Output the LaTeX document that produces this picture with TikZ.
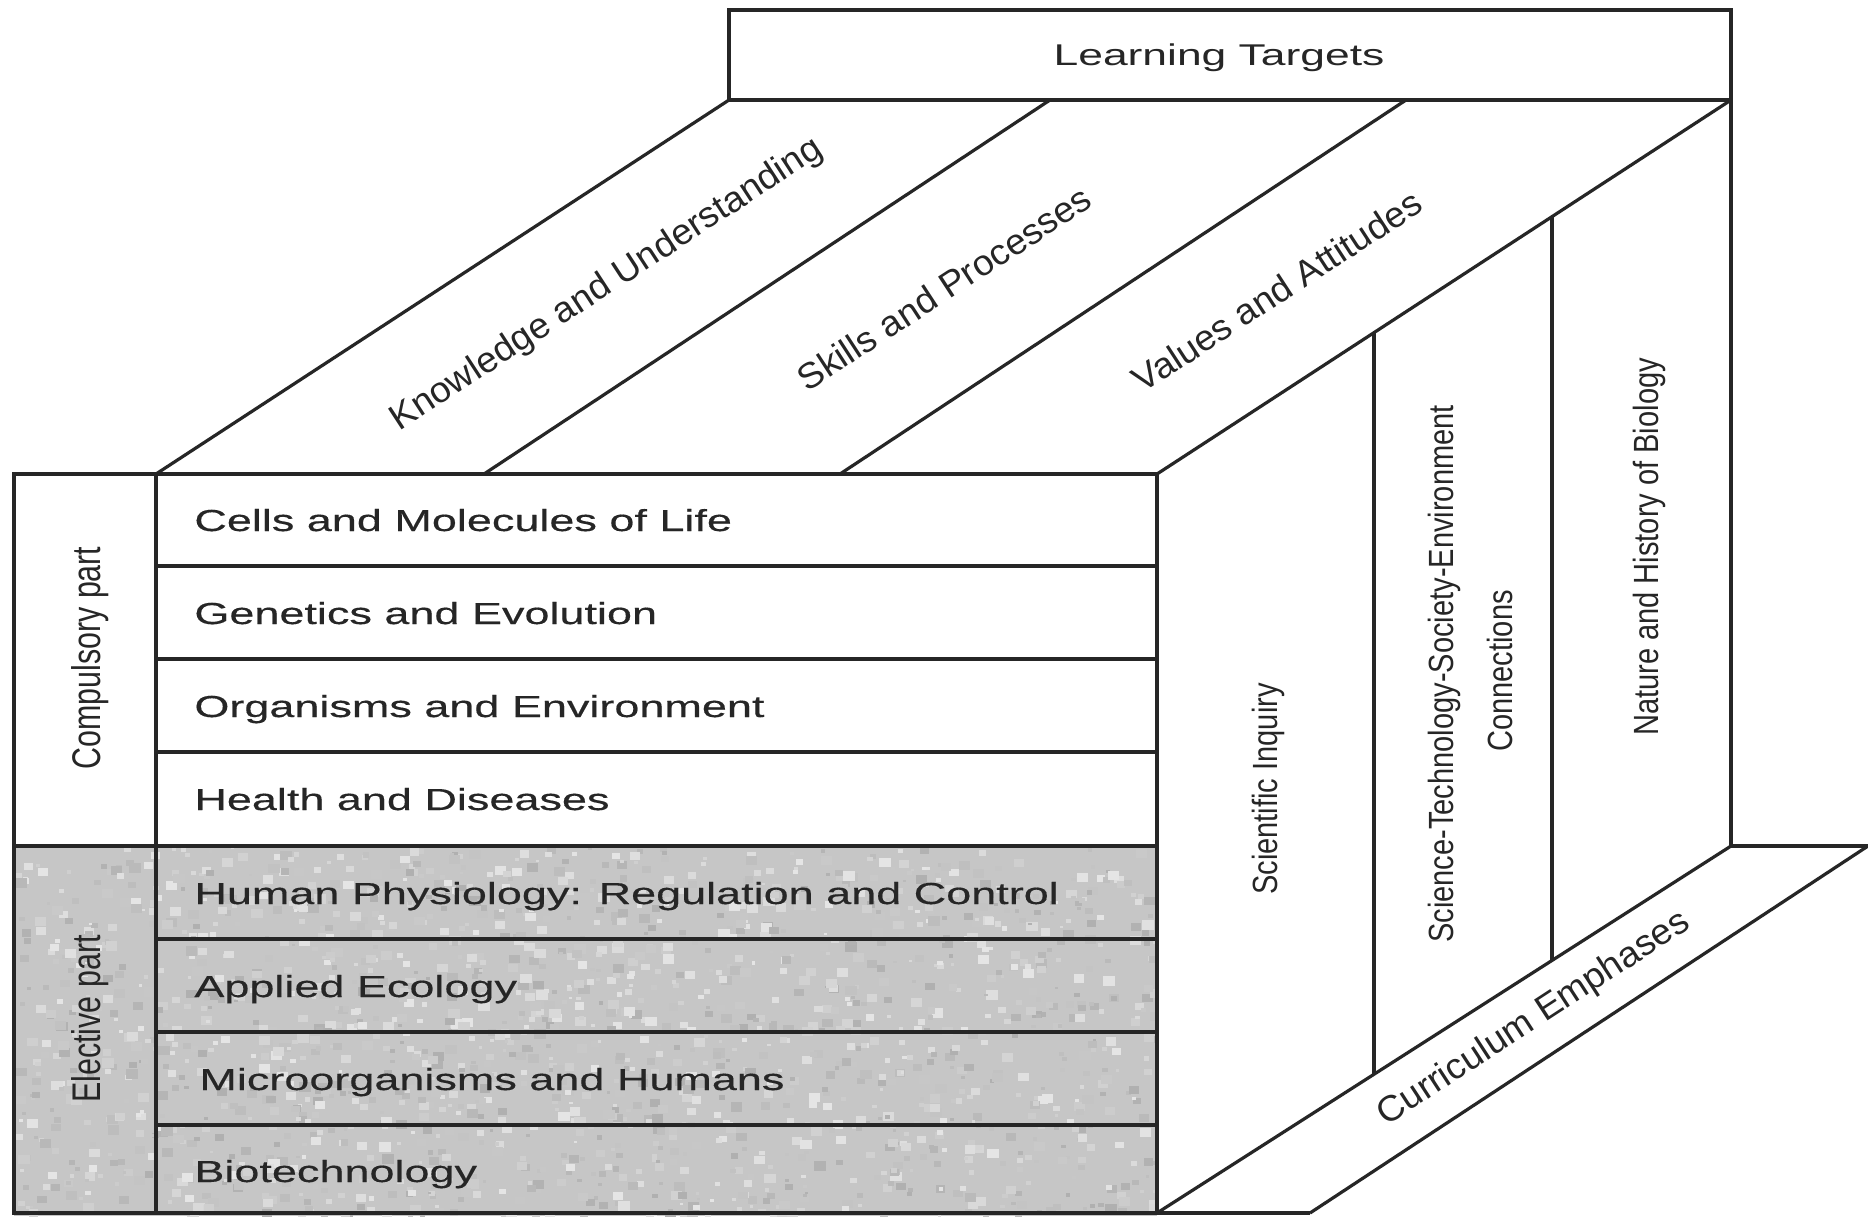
\documentclass[tikz,border=0pt]{standalone}
\usepackage{fontspec}
\setmainfont{Liberation Sans}
\newfontfamily\rowfont[FakeStretch=1.48,FakeBold=0.35]{Liberation Sans}
\newfontfamily\ttlfont[FakeStretch=1.48]{Liberation Sans}
\newfontfamily\vertfont[FakeStretch=0.83]{Liberation Sans}
\newfontfamily\sidefont[FakeStretch=0.76]{Liberation Sans}
\newfontfamily\diagfont[FakeStretch=1.03]{Liberation Sans}
\definecolor{ink}{HTML}{262626}
\definecolor{elect}{HTML}{C6C6C6}
\begin{document}
\begin{tikzpicture}[x=0.5pt,y=-0.5pt,
  edge/.style={draw=ink,line width=1.9pt,line join=miter},
  thin edge/.style={draw=ink,line width=1.6pt},
  rowlbl/.style={anchor=base west,inner sep=0pt,text=ink,font=\rowfont\fontsize{15.2pt}{18pt}\selectfont},
  ttl/.style={anchor=base,inner sep=0pt,text=ink,font=\ttlfont\fontsize{15pt}{18pt}\selectfont},
  vlbl/.style={rotate=90,anchor=base,inner sep=0pt,text=ink,font=\vertfont\fontsize{17.5pt}{20pt}\selectfont},
  slbl/.style={rotate=90,anchor=base,inner sep=0pt,text=ink,font=\sidefont\fontsize{20pt}{22pt}\selectfont},
  dlbl/.style={rotate=33.1,anchor=center,inner sep=0pt,text=ink,font=\diagfont\fontsize{18pt}{20pt}\selectfont}]
\useasboundingbox (0,0) rectangle (1868,1216);
\fill[white] (0,0) rectangle (1868,1216);

% key points
\coordinate (LTa) at (729,10);
\coordinate (LTb) at (1731,10);
\coordinate (LTc) at (1731,100);
\coordinate (LTd) at (729,100);
\coordinate (D2t) at (1050,100);
\coordinate (D3t) at (1406,100);
\coordinate (F0) at (156,474);
\coordinate (D2b) at (484,474);
\coordinate (D3b) at (840,474);
\coordinate (F1) at (1157,474);
\coordinate (F2) at (1157,1213);
\coordinate (F3) at (156,1213);
\coordinate (L0) at (14,474);
\coordinate (L1) at (14,1213);
\coordinate (Bk) at (1731,846);
\coordinate (S1) at (1868,846);
\coordinate (S2) at (1310,1213);
\coordinate (V1t) at (1374,333);
\coordinate (V1b) at (1374,1074);
\coordinate (V2t) at (1552,217);
\coordinate (V2b) at (1552,960);

% elective shading with a light mottled texture
\fill[elect] (14,846) rectangle (1157,1216);
\begin{scope}
\clip (14,846) rectangle (1157,1216);
\pgfmathsetseed{7}
\foreach \i in {1,...,1800}{
  \pgfmathsetmacro{\px}{14+rnd*1143}
  \pgfmathsetmacro{\py}{846+rnd*370}
  \pgfmathsetmacro{\sz}{3+rnd*9}
  \pgfmathsetmacro{\gv}{int(10+rnd*22)}
  \fill[black!\gv] (\px,\py) rectangle ++(\sz,\sz*0.8);
}
\end{scope}

% learning targets box
\draw[edge] (LTa) rectangle (LTc);

% top face diagonals
\draw[thin edge] (LTd) -- (F0);
\draw[thin edge] (D2t) -- (D2b);
\draw[thin edge] (D3t) -- (D3b);
\draw[thin edge] (LTc) -- (F1);

% right face
\draw[thin edge] (LTc) -- (Bk) -- (S1);
\draw[thin edge] (Bk) -- (F2);
\draw[thin edge] (S1) -- (S2);
\draw[thin edge] (V1t) -- (V1b);
\draw[thin edge] (V2t) -- (V2b);

% front face and left column
\draw[edge] (L0) rectangle (F2);
\draw[edge] (F0) -- (F3);
\draw[edge] (F3) -- (S2);
\foreach \yy in {566,659,752,939,1032,1125}
  \draw[edge] (156,\yy) -- (1157,\yy);
\draw[edge] (14,846) -- (1157,846);

% texts
\node[ttl] (lt) at (1219,65) {Learning Targets};

\node[rowlbl] (r1) at (194,531) {Cells and Molecules of Life};
\node[rowlbl] (r2) at (194,624) {Genetics and Evolution};
\node[rowlbl] (r3) at (194,717) {Organisms and Environment};
\node[rowlbl] (r4) at (194,810) {Health and Diseases};
\node[rowlbl] (r5) at (194,904) {Human Physiology: Regulation and Control};
\node[rowlbl] (r6) at (194,997) {Applied Ecology};
\node[rowlbl] (r7) at (199,1090) {Microorganisms and Humans};
\node[rowlbl] (r8) at (194,1182) {Biotechnology};

\node[slbl] (cp) at (100,658) {Compulsory part};
\node[slbl] (ep) at (100,1019) {Elective part};

\node[vlbl] (si) at (1277,789) {Scientific Inquiry};
\node[vlbl] (st) at (1453,674) {Science-Technology-Society-Environment};
\node[vlbl] (cn) at (1512,671) {Connections};
\node[vlbl] (nh) at (1658,547) {Nature and History of Biology};

\node[dlbl] (ku) at (607,285) {Knowledge and Understanding};
\node[dlbl] (sp) at (944,288) {Skills and Processes};
\node[dlbl] (va) at (1277,291) {Values and Attitudes};
\node[dlbl] (ce) at (1534,1019) {Curriculum Emphases};
\end{tikzpicture}
\end{document}
